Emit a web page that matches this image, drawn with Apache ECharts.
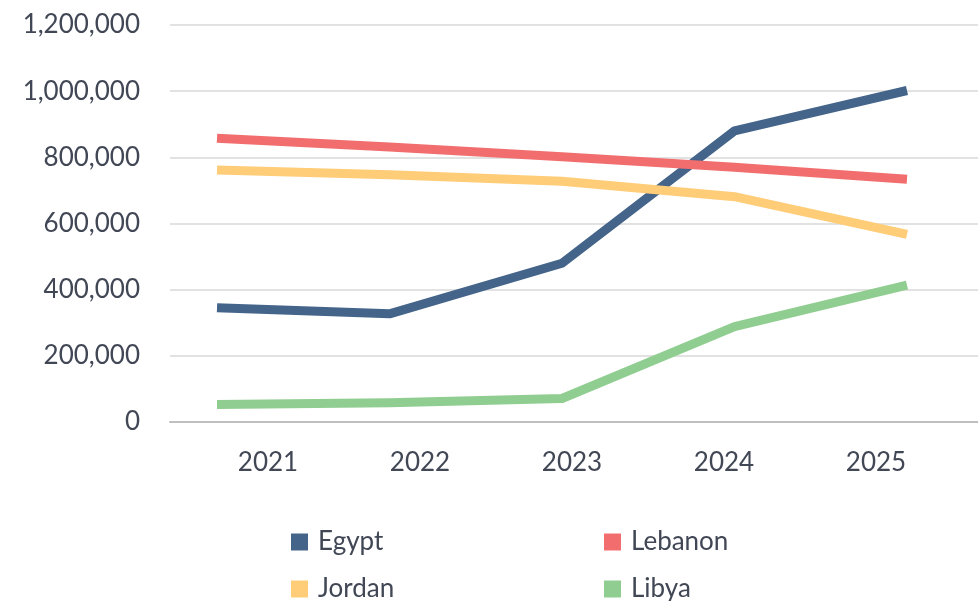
<!DOCTYPE html>
<html><head><meta charset="utf-8">
<script src="https://cdn.jsdelivr.net/npm/echarts@6/dist/echarts.min.js"></script>
<style>html,body{margin:0;padding:0;background:#fff}#c{width:978px;height:601px}</style>
</head><body><div id="c"></div>
<script>
const years = ['2021','2022','2023','2024','2025'];
const egypt = [345000, 327000, 480000, 880000, 1002000];
const lebanon = [858000, 831000, 802000, 770000, 734000];
const jordan = [762000, 747000, 728000, 681000, 567000];
const libya = [53000, 58000, 71000, 288000, 414000];
const yTicks = {min: 0, max: 1200000, interval: 200000};

const FONT = 'Lato';
const TXT = '#414755';
const chart = echarts.init(document.getElementById('c'));
const fmt = v => v.toLocaleString('en-US');
const seriesDefs = [
  {name: 'Egypt', data: egypt, color: '#44648a'},
  {name: 'Lebanon', data: lebanon, color: '#f26e6e'},
  {name: 'Jordan', data: jordan, color: '#ffcc77'},
  {name: 'Libya', data: libya, color: '#90cd90'}
];
const legendPos = [
  {name: 'Egypt', left: 291, top: 529},
  {name: 'Lebanon', left: 604, top: 529},
  {name: 'Jordan', left: 291, top: 576},
  {name: 'Libya', left: 604, top: 576}
];
chart.setOption({
  animation: false,
  grid: [
    {left: 170, right: 0, top: 25, bottom: 179},
    {left: 268, right: 102, top: 25, bottom: 179},
    {left: 217, right: 71, top: 25, bottom: 179}
  ],
  xAxis: [
    {gridIndex: 0, type: 'category', data: years, axisLabel: {show: false}, axisTick: {show: false},
     axisLine: {lineStyle: {color: '#bfbfbf', width: 2}}},
    {gridIndex: 1, type: 'category', data: years, boundaryGap: false, axisLine: {show: false}, axisTick: {show: false},
     axisLabel: {color: TXT, fontFamily: FONT, fontSize: 26, margin: 28}},
    {gridIndex: 2, type: 'category', data: years, boundaryGap: false, show: false}
  ],
  yAxis: [
    {gridIndex: 0, type: 'value', min: yTicks.min, max: yTicks.max, interval: yTicks.interval,
     axisLine: {show: false}, axisTick: {show: false},
     axisLabel: {color: TXT, fontFamily: FONT, fontSize: 26, margin: 30, formatter: fmt},
     splitLine: {lineStyle: {color: '#d9d9d9', width: 1.5}}},
    {gridIndex: 1, type: 'value', min: yTicks.min, max: yTicks.max, show: false, splitLine: {show: false}},
    {gridIndex: 2, type: 'value', min: yTicks.min, max: yTicks.max, show: false, splitLine: {show: false}}
  ],
  legend: legendPos.map(p => ({
    data: [p.name], left: p.left, top: p.top, padding: 0, itemWidth: 17, itemHeight: 17, itemGap: 0,
    icon: 'rect', textStyle: {color: TXT, fontFamily: FONT, fontSize: 26, padding: [0,0,0,5]}
  })),
  series: seriesDefs.map(s => ({
    name: s.name, type: 'line', xAxisIndex: 2, yAxisIndex: 2, data: s.data,
    showSymbol: false, symbol: 'none', color: s.color,
    lineStyle: {color: s.color, width: 9, cap: 'butt', join: 'round'}
  }))
});
</script></body></html>
